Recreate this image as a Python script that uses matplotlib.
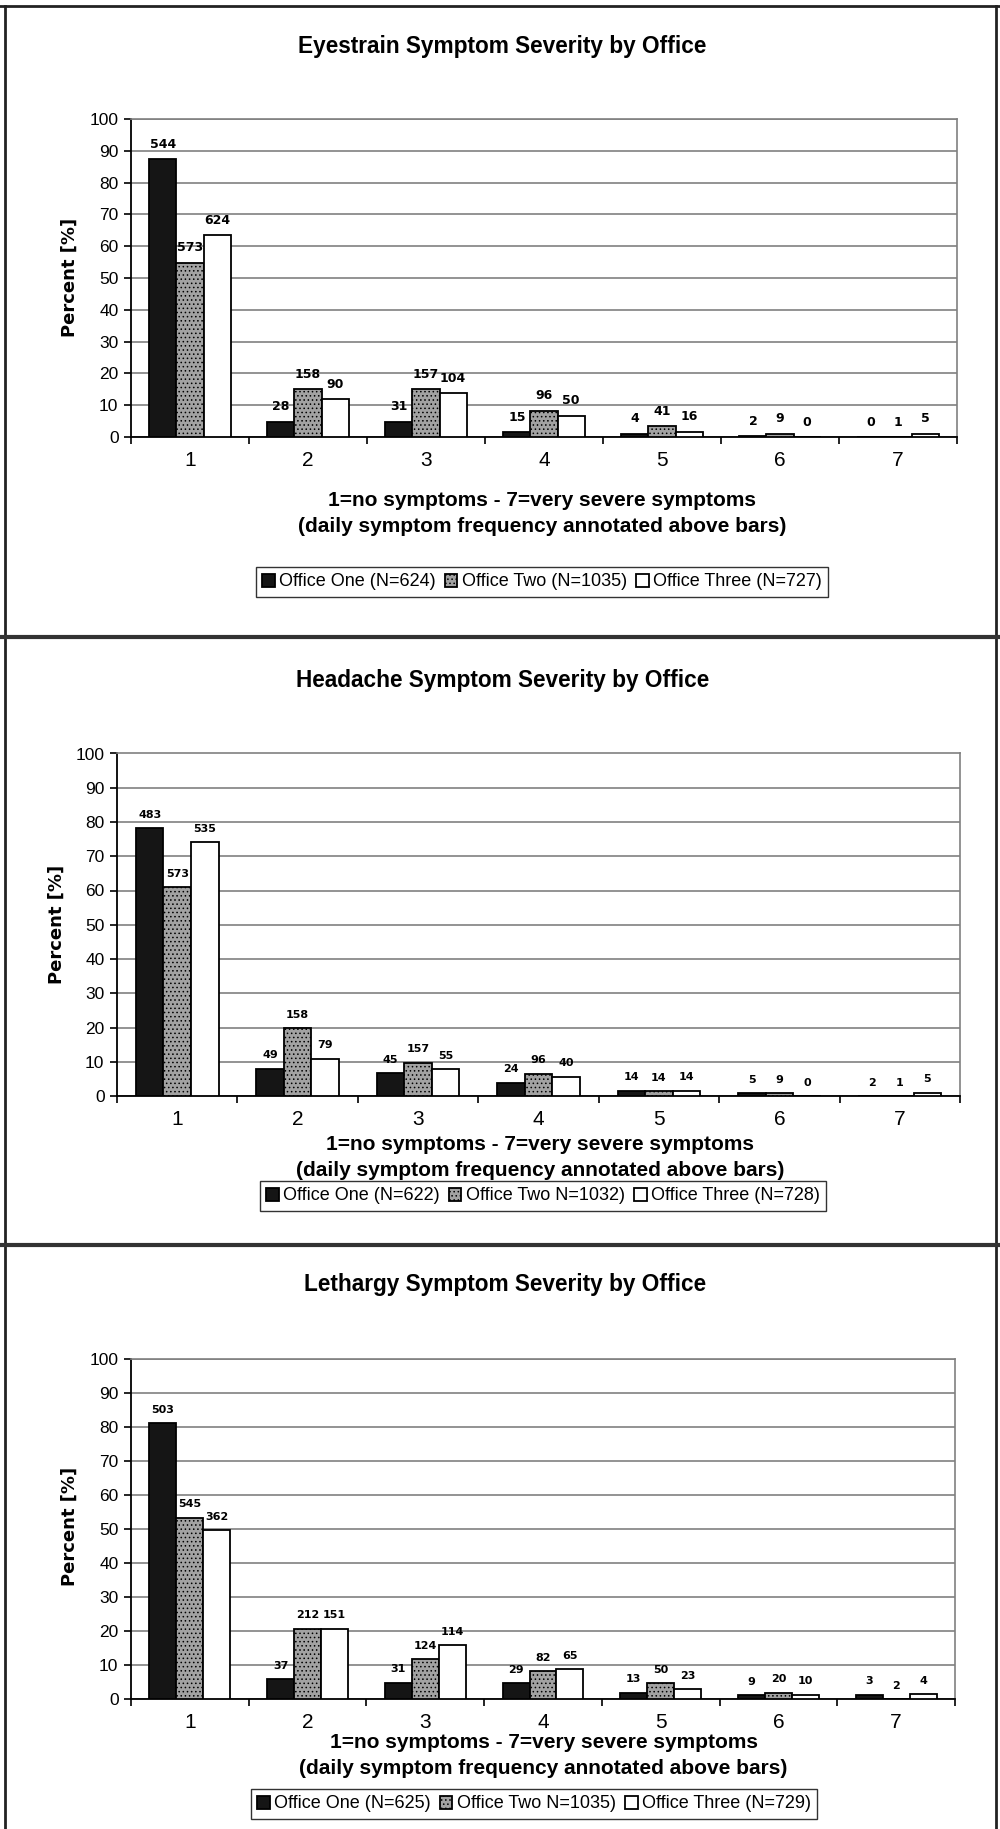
import numpy as np
import matplotlib
matplotlib.use("Agg")
import matplotlib.pyplot as plt
from matplotlib.patches import Patch
from matplotlib.lines import Line2D

plt.rcParams['font.family'] = ['Liberation Sans', 'DejaVu Sans']
plt.rcParams['hatch.linewidth'] = 0.6

W, H = 1000, 1829

severity = [1, 2, 3, 4, 5, 6, 7]
y_ticks = [0, 10, 20, 30, 40, 50, 60, 70, 80, 90, 100]

# Eyestrain (percent of office respondents)
eye_one = [87.3, 4.8, 4.8, 1.5, 1.0, 0.2, 0.0]
eye_two = [54.8, 15.0, 15.0, 8.3, 3.5, 1.1, 0.0]
eye_three = [63.5, 11.8, 13.7, 6.7, 1.7, 0.0, 1.1]
eye_freq_one = [544, 28, 31, 15, 4, 2, 0]
eye_freq_two = [573, 158, 157, 96, 41, 9, 1]
eye_freq_three = [624, 90, 104, 50, 16, 0, 5]
eye_legend = ["Office One (N=624)", "Office Two (N=1035)", "Office Three (N=727)"]

# Headache
head_one = [78.2, 8.0, 6.7, 3.9, 1.6, 0.8, 0.0]
head_two = [60.9, 19.8, 9.7, 6.5, 1.4, 0.9, 0.0]
head_three = [74.1, 10.9, 7.8, 5.6, 1.6, 0.0, 1.0]
head_freq_one = [483, 49, 45, 24, 14, 5, 2]
head_freq_two = [573, 158, 157, 96, 14, 9, 1]
head_freq_three = [535, 79, 55, 40, 14, 0, 5]
head_legend = ["Office One (N=622)", "Office Two N=1032)", "Office Three (N=728)"]

# Lethargy
leth_one = [81.2, 5.9, 4.8, 4.7, 1.9, 1.2, 1.3]
leth_two = [53.3, 20.7, 11.7, 8.1, 4.7, 1.9, 0.0]
leth_three = [49.6, 20.7, 15.8, 8.7, 2.9, 1.3, 1.4]
leth_freq_one = [503, 37, 31, 29, 13, 9, 3]
leth_freq_two = [545, 212, 124, 82, 50, 20, 2]
leth_freq_three = [362, 151, 114, 65, 23, 10, 4]
leth_legend = ["Office One (N=625)", "Office Two N=1035)", "Office Three (N=729)"]

titles = ["Eyestrain Symptom Severity by Office",
          "Headache Symptom Severity by Office",
          "Lethargy Symptom Severity by Office"]
xlabel_1 = "1=no symptoms - 7=very severe symptoms"
xlabel_2 = "(daily symptom frequency annotated above bars)"
ylabel = "Percent [%]"

styles = [
    dict(facecolor="#151515", edgecolor="black", linewidth=1.3),
    dict(facecolor="#a2a2a2", edgecolor="black", linewidth=1.3, hatch="...."),
    dict(facecolor="white", edgecolor="black", linewidth=1.3),
]
bar_w = 0.229


def fx(px):
    return px / W


def fy(py):
    return 1 - py / H


def draw_panel(fig, lay, series, freqs, legend_labels, title, ann_size):
    left, right, y0, y100 = lay["axes"]
    ax = fig.add_axes([fx(left), fy(y0), fx(right - left), (y0 - y100) / H])
    x = np.array(severity, dtype=float)
    for vals, cnts, off, st in zip(series, freqs, [-bar_w, 0, bar_w], styles):
        bars = ax.bar(x + off, vals, bar_w, zorder=3, **st)
        for b, c in zip(bars, cnts):
            ax.annotate(str(c), (b.get_x() + b.get_width() / 2, b.get_height()),
                        xytext=(0, 6), textcoords="offset points",
                        ha="center", va="bottom", fontsize=ann_size,
                        fontweight="bold", family="DejaVu Sans", zorder=4)

    ax.set_xlim(0.5, 7.5)
    ax.set_ylim(0, 100)
    ax.set_yticks(y_ticks)
    ax.set_xticks(severity)
    ax.set_xticks(np.arange(0.5, 8.0, 1.0), minor=True)
    ax.tick_params(axis="x", which="major", length=0, labelsize=15, pad=10)
    ax.tick_params(axis="x", which="minor", length=5, width=1.2, direction="out")
    ax.tick_params(axis="y", length=5, width=1.2, labelsize=12.5, pad=4)
    ax.yaxis.grid(True, color="#808080", linewidth=1.2)
    ax.set_axisbelow(True)
    for s in ["top", "right"]:
        ax.spines[s].set_color("#808080")
        ax.spines[s].set_linewidth(1.2)
    for s in ["left", "bottom"]:
        ax.spines[s].set_color("black")
        ax.spines[s].set_linewidth(1.3)

    fig.text(fx(lay["title"][0]), fy(lay["title"][1]), title, ha="center", va="center",
             fontsize=16.3, fontweight="bold")
    fig.text(fx(lay["xl1"][0]), fy(lay["xl1"][1]), xlabel_1, ha="center", va="center",
             fontsize=15, fontweight="bold")
    fig.text(fx(lay["xl2"][0]), fy(lay["xl2"][1]), xlabel_2, ha="center", va="center",
             fontsize=15, fontweight="bold")
    fig.text(fx(lay["yl"][0]), fy(lay["yl"][1]), ylabel, ha="center", va="center",
             rotation=90, fontsize=13, fontweight="bold", family="DejaVu Sans")

    handles = [Patch(**st) for st in styles]
    leg = fig.legend(handles, legend_labels, loc="center",
                     bbox_to_anchor=(fx(lay["leg"][0]), fy(lay["leg"][1])),
                     ncol=3, fontsize=13, frameon=True, fancybox=False,
                     edgecolor="black", handlelength=0.7, handleheight=0.7,
                     handletextpad=0.25, columnspacing=0.5, borderpad=0.35,
                     borderaxespad=0)
    leg.get_frame().set_linewidth(1.0)
    return ax


fig = plt.figure(figsize=(W / 100, H / 100), dpi=100)

layouts = [
    dict(axes=(131, 957, 437, 119), title=(502, 47), xl1=(542, 500), xl2=(542, 526),
         yl=(70, 277), leg=(542, 582)),
    dict(axes=(117, 960, 1096, 753.5), title=(503, 681), xl1=(540, 1144), xl2=(540, 1170),
         yl=(57, 924), leg=(543, 1196)),
    dict(axes=(131, 955, 1699, 1359), title=(505, 1285), xl1=(544, 1743), xl2=(543, 1769),
         yl=(70, 1526), leg=(534, 1804)),
]

draw_panel(fig, layouts[0], [eye_one, eye_two, eye_three],
           [eye_freq_one, eye_freq_two, eye_freq_three], eye_legend, titles[0], 9)
draw_panel(fig, layouts[1], [head_one, head_two, head_three],
           [head_freq_one, head_freq_two, head_freq_three], head_legend, titles[1], 8)
draw_panel(fig, layouts[2], [leth_one, leth_two, leth_three],
           [leth_freq_one, leth_freq_two, leth_freq_three], leth_legend, titles[2], 8)

# panel frames
frame_kw = dict(color="#222222", linewidth=2, transform=fig.transFigure)
fig.add_artist(Line2D([fx(5), fx(5)], [fy(6), fy(H)], **frame_kw))
fig.add_artist(Line2D([fx(996), fx(996)], [fy(6), fy(H)], **frame_kw))
fig.add_artist(Line2D([fx(0), fx(W)], [fy(6), fy(6)], **frame_kw))
for sep in [637, 1245]:
    fig.add_artist(Line2D([fx(0), fx(W)], [fy(sep), fy(sep)], color="#333333",
                          linewidth=3, transform=fig.transFigure))

fig.savefig("out.png", dpi=100, facecolor="white")
